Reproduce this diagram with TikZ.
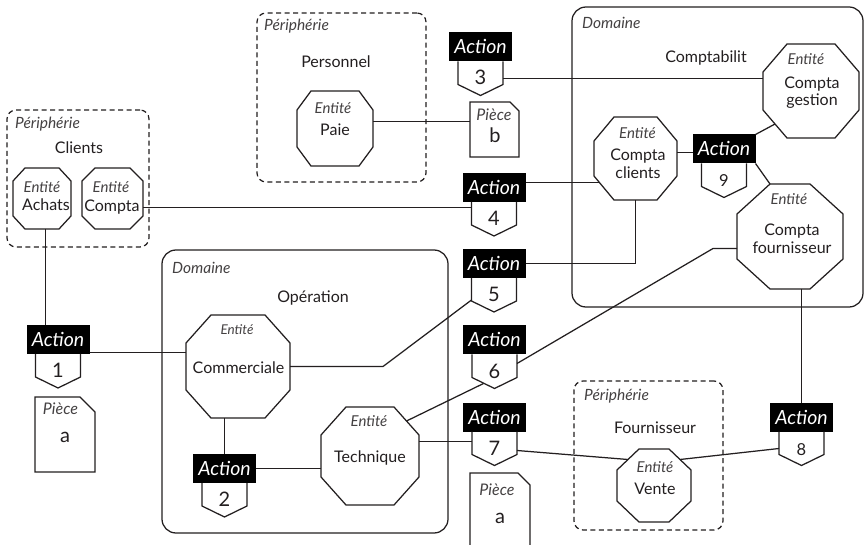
\documentclass[tikz,border=0pt]{standalone}
\usepackage{fontspec}
\setmainfont{Lato}
\usetikzlibrary{calc}
\definecolor{ink}{HTML}{231F20}

% octagon: name, centre, width, height, corner cut x, corner cut y
\newcommand\octa[6]{%
  \node[octframe, minimum width=#3pt, minimum height=#4pt] (#1) at (#2) {};
  \draw[wire, fill=white] ($(#1.north west)+(#5,0)$) -- ($(#1.north east)+(-#5,0)$)
    -- ($(#1.north east)+(0,#6)$) -- ($(#1.south east)+(0,-#6)$)
    -- ($(#1.south east)+(-#5,0)$) -- ($(#1.south west)+(#5,0)$)
    -- ($(#1.south west)+(0,-#6)$) -- ($(#1.north west)+(0,#6)$) -- cycle;
  \coordinate (#1-nw) at ($(#1.north west)+(#5/2,#6/2)$);
  \coordinate (#1-ne) at ($(#1.north east)+(-#5/2,#6/2)$);
  \coordinate (#1-sw) at ($(#1.south west)+(#5/2,-#6/2)$);
  \coordinate (#1-se) at ($(#1.south east)+(-#5/2,-#6/2)$);
}
% action: name, centre of the black tag, number, number size
\newcommand\action[4]{%
  \node[acttag] (#1) at (#2) {Action};
  \node[numslot, anchor=north, font=\fontsize{#4}{#4}\selectfont] (#1n) at (#1.south) {#3};
  \draw[wire] (#1n.north west) -- ($(#1n.south west)+(0,-11)$) -- (#1n.south)
    -- ($(#1n.south east)+(0,-11)$) -- (#1n.north east);
}
% document sheet with a cut corner: name, centre, width, height, cut
\newcommand\piece[5]{%
  \node[octframe, minimum width=#3pt, minimum height=#4pt] (#1) at (#2) {};
  \draw[wire, fill=white] (#1.south west) -- (#1.north west) -- ($(#1.north east)+(-#5,0)$)
    -- ($(#1.north east)+(0,#5)$) -- (#1.south east) -- cycle;
}

\begin{document}
\begin{tikzpicture}[x=1pt, y=-1pt,
  wire/.style={draw=ink, line width=1.25pt},
  periph/.style={draw=ink, line width=1.25pt, dash pattern=on 5pt off 3.5pt, rounded corners=9pt, inner sep=0pt},
  domainbox/.style={draw=ink, line width=1.25pt, rounded corners=14pt, inner sep=0pt},
  octframe/.style={rectangle, inner sep=0pt, outer sep=0pt},
  acttag/.style={rectangle, fill=black, text=white, inner sep=0pt, outer sep=0pt,
    minimum width=63pt, minimum height=29pt, text height=14pt, text depth=0pt,
    font=\fontsize{19.5}{21}\selectfont\itshape},
  numslot/.style={rectangle, inner sep=0pt, outer sep=0pt, minimum width=45pt,
    minimum height=34pt, text=ink, text height=13pt, text depth=0pt},
  lab/.style={inner sep=0pt, text=ink, text height=11.5pt, text depth=0pt,
    font=\fontsize{16}{18}\selectfont},
  ent/.style={inner sep=0pt, text=ink!85, text height=10.8pt, text depth=0pt,
    font=\fontsize{15}{17}\selectfont\itshape},
  ttl/.style={inner sep=0pt, text=ink!85, text height=11pt, text depth=0pt,
    font=\fontsize{15.5}{17}\selectfont\itshape},
  doctag/.style={inner sep=0pt, text=ink!85, text height=11pt, text depth=0pt,
    font=\fontsize{16}{18}\selectfont\itshape},
  letter/.style={inner sep=0pt, text=ink, text height=12pt, text depth=0pt,
    font=\fontsize{20}{21}\selectfont},
]
\clip (0,0) rectangle (865,545);
\fill[white] (0,0) rectangle (865,545);

% zones
\node[periph, minimum width=142pt, minimum height=137pt] (clients-zone) at (78,178.5) {};
\node[periph, minimum width=169pt, minimum height=169pt] (pers-zone) at (341.5,97.5) {};
\node[periph, minimum width=149pt, minimum height=149pt] (four-zone) at (648.5,455.5) {};
\node[domainbox, minimum width=291pt, minimum height=300pt] (cpt-zone) at (717.5,157) {};
\node[domainbox, minimum width=286pt, minimum height=283pt] (op-zone) at (305,391.5) {};

\node[ttl, anchor=west] (clients-tag) at (15,123) {Périphérie};
\node[lab] (clients-name) at (79,148) {Clients};
\node[ttl, anchor=west] (pers-tag) at (264,25) {Périphérie};
\node[lab] (pers-name) at (336,62) {Personnel};
\node[ttl, anchor=west] (four-tag) at (584,395) {Périphérie};
\node[lab] (four-name) at (655,428) {Fournisseur};
\node[ttl, anchor=west] (cpt-tag) at (582,23) {Domaine};
\node[lab] (cpt-name) at (706,57) {Comptabilit};
\node[ttl, anchor=west] (op-tag) at (172,268) {Domaine};
\node[lab] (op-name) at (313,297) {Opération};

% entities
\octa{achats}{42,198.5}{58}{61}{12}{13}
\octa{compta}{112.5,198.5}{61}{61}{13}{13}
\octa{paie}{335,128.5}{76}{75}{14}{19}
\octa{comm}{238,366.5}{104}{103}{25}{28}
\octa{tech}{370,456}{98}{98}{25}{28}
\octa{ccli}{635.5,158.5}{83}{83}{20}{24}
\octa{cges}{811,91}{96}{94}{24}{28}
\octa{cfou}{790,236.5}{106}{105}{33}{30}
\octa{vente}{654,485.5}{74}{73}{22}{21}

\node[ent] (achats-e) at (42,187) {Entité};
\node[lab] (achats-l) at (46,205) {Achats};
\node[ent] (compta-e) at (111,187) {Entité};
\node[lab] (compta-l) at (112,206) {Compta};
\node[ent] (paie-e) at (333,108) {Entité};
\node[lab] (paie-l) at (335,130) {Paie};
\node[ent, font=\fontsize{13.5}{15}\selectfont\itshape] (comm-e) at (237,329) {Entité};
\node[lab] (comm-l) at (238.5,368) {Commerciale};
\node[ent] (tech-e) at (369,421) {Entité};
\node[lab] (tech-l) at (370,457) {Technique};
\node[ent] (ccli-e) at (637.5,133) {Entité};
\node[lab] (ccli-l1) at (638,155) {Compta};
\node[lab] (ccli-l2) at (638,173) {clients};
\node[ent] (cges-e) at (806,59) {Entité};
\node[lab] (cges-l1) at (812,83) {Compta};
\node[lab] (cges-l2) at (812,100) {gestion};
\node[ent] (cfou-e) at (789,199) {Entité};
\node[lab] (cfou-l1) at (792,230) {Compta};
\node[lab] (cfou-l2) at (792,248) {fournisseur};
\node[ent] (vente-e) at (655,467) {Entité};
\node[lab] (vente-l) at (655,489) {Vente};

% actions
\action{a1}{58,339.5}{1}{20}
\action{a2}{224.5,468.5}{2}{20}
\action{a3}{480.5,47}{3}{20}
\action{a4}{494,187.5}{4}{20}
\action{a5}{494,263.5}{5}{20}
\action{a6}{494.5,340}{6}{20}
\action{a7}{494.5,417}{7}{20}
\action{a8}{801.5,417}{8}{16.5}
\action{a9}{724,149}{9}{16.5}

% documents
\piece{pb}{494.5,129.5}{49}{55}{9}
\piece{pa}{65,434.5}{60}{75}{15}
\piece{pc}{500,516.5}{60}{87}{12}
\node[doctag] (pb-t) at (494,115) {Pièce};
\node[letter] (pb-l) at (495,137) {b};
\node[doctag] (pa-t) at (60.5,409) {Pièce};
\node[letter, text height=8.5pt] (pa-l) at (65,438) {a};
\node[doctag] (pc-t) at (497,490) {Pièce};
\node[letter, text height=8.5pt] (pc-l) at (500,519) {a};

% links
\coordinate (k1) at ($(achats.south)+(3.5,0)$);
\draw[wire] (k1) -- (k1 |- a1.north);
\coordinate (k2) at ($(a1.east)+(0,13)$);
\draw[wire] (k2) -- (k2 -| comm.west);
\coordinate (k3) at ($(compta.east)+(0,9)$);
\draw[wire] (k3) -- (k3 -| a4n.west);
\coordinate (k4) at ($(a4.east)+(0,-5)$);
\coordinate (k4e) at ($(ccli.south west)+(5,-18)$);
\draw[wire] (k4) -- (k4 -| k4e);
\draw[wire] (a5.east) -| (ccli.south);
\coordinate (k6) at ($(ccli.east)+(0,-6)$);
\draw[wire] (k6) -- (k6 -| a9.west);
\draw[wire] (a9.north east) -- (cges-sw);
\draw[wire] (a9.south east) -- ($(cfou.north west)+(33,0)$);
\draw[wire] (a3n.east) -- (a3n.east -| cges.west);
\coordinate (k9) at ($(cfou.west)+(0,12)$);
\draw[wire] ($(a6n.north east)+(0,9)$) -- ($(k9)+(-24,0)$) -- (k9);
\draw[wire] (tech-ne) -- ($(a6n.south)+(-11,-5)$);
\coordinate (k11) at ($(a7n.north west)+(0,10)$);
\draw[wire] (k11) -- (k11 -| tech.east);
\draw[wire] ($(a7n.north east)+(0,19)$) -- (vente-nw);
\draw[wire] (vente-ne) -- (a8n.west);
\draw[wire] (a8.north |- cfou.south) -- (a8.north);
\draw[wire] (comm.east) -- ++(93,0) -- ($(a5n.west)+(0,5)$);
\draw[wire] (comm.south -| a2.north) -- (a2.north);
\draw[wire] (a2.east) -- (a2.east -| tech.west);
\coordinate (k18) at ($(paie.east)+(0,-7)$);
\draw[wire] (k18) -- (k18 -| pb.west);
\end{tikzpicture}
\end{document}
